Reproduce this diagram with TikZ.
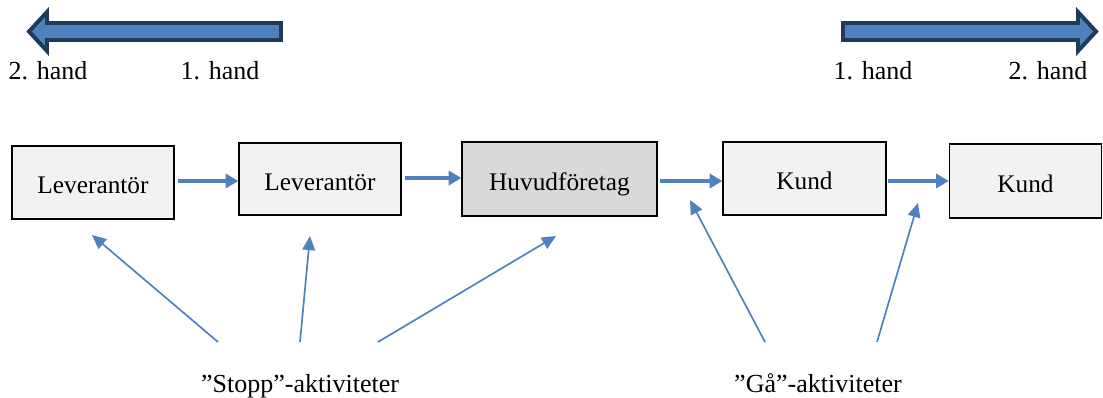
\documentclass[tikz,border=0pt]{standalone}
\usepackage{fontspec}
\setmainfont{Liberation Serif}
\usepackage{tikz}
\usetikzlibrary{arrows.meta}
\definecolor{flowblue}{HTML}{4F81BD}
\definecolor{navy}{HTML}{1F3A5C}
\definecolor{boxgray}{HTML}{F2F2F2}
\definecolor{maingray}{HTML}{D9D9D9}
\tikzset{
  firm/.style={draw=black, line width=1pt, fill=boxgray, inner sep=0pt,
    text height=17pt, text depth=1pt, font=\fontsize{18}{20}\selectfont},
  flow/.style={flowblue, line width=2.8pt, -{Triangle[length=9pt,width=10pt]}},
  hint/.style={flowblue, line width=1.2pt, -{Triangle[length=10pt,width=9pt]}},
  lbl/.style={font=\fontsize{18.5}{20}\selectfont, inner sep=0pt, anchor=base},
  bigarrow/.style={draw=navy, fill=flowblue, line width=2.8pt, miter limit=10}
}
\begin{document}
\begin{tikzpicture}[x=0.025cm, y=-0.025cm]
\useasboundingbox (0,0) rectangle (1103,397);
% hand direction arrows
\draw [bigarrow] (281,23) -- (47,23) -- (47,12) -- (29,31.5) -- (47,51) -- (47,40) -- (281,40) -- cycle;
\draw [bigarrow] (843,23) -- (1078,23) -- (1078,12) -- (1096,31.5) -- (1078,51) -- (1078,40) -- (843,40) -- cycle;
\node [lbl] (left2) at (48,79) {2. hand};
\node [lbl] (left1) at (220,79) {1. hand};
\node [lbl] (right1) at (873,79) {1. hand};
\node [lbl] (right2) at (1048,79) {2. hand};
% chain
\node [firm, minimum width=4.05cm, minimum height=1.82cm] (lev1) at (93,182.5) {Leverantör};
\node [firm, minimum width=4.05cm, minimum height=1.8cm] (lev2) at (320,179) {Leverantör};
\node [firm, fill=maingray, minimum width=4.87cm, minimum height=1.85cm] (huvud) at (559.5,179) {Huvudföretag};
\node [firm, minimum width=4.07cm, minimum height=1.82cm] (kund1) at (804.5,178.5) {Kund};
\node [firm, minimum width=3.8cm, minimum height=1.85cm] (kund2) at (1025.5,181) {Kund};
\draw [flow] ([xshift=2pt]lev1.east |- 0,181) -- (lev2.west |- 0,181);
\draw [flow] ([xshift=2pt]lev2.east |- 0,178) -- (huvud.west |- 0,178);
\draw [flow] ([xshift=2pt]huvud.east |- 0,181) -- (kund1.west |- 0,181);
\draw [flow] ([xshift=1pt]kund1.east |- 0,181) -- (kund2.west |- 0,181);
% activities
\node [lbl] (stopp) at (300,392) {”Stopp”-aktiviteter};
\node [lbl] (ga) at (818,392) {”Gå”-aktiviteter};
\coordinate (s1) at (218,342);
\coordinate (s2) at (300,342);
\coordinate (s3) at (378,342);
\coordinate (g1) at (765,342);
\coordinate (g2) at (877,342);
\coordinate (t1) at (92,235);
\coordinate (t2) at (310,236);
\coordinate (t3) at (556,236);
\coordinate (t4) at (690,200);
\coordinate (t5) at (918,203);
\draw [hint] (s1) -- (t1);
\draw [hint] (s2) -- (t2);
\draw [hint] (s3) -- (t3);
\draw [hint] (g1) -- (t4);
\draw [hint] (g2) -- (t5);
\end{tikzpicture}
\end{document}
